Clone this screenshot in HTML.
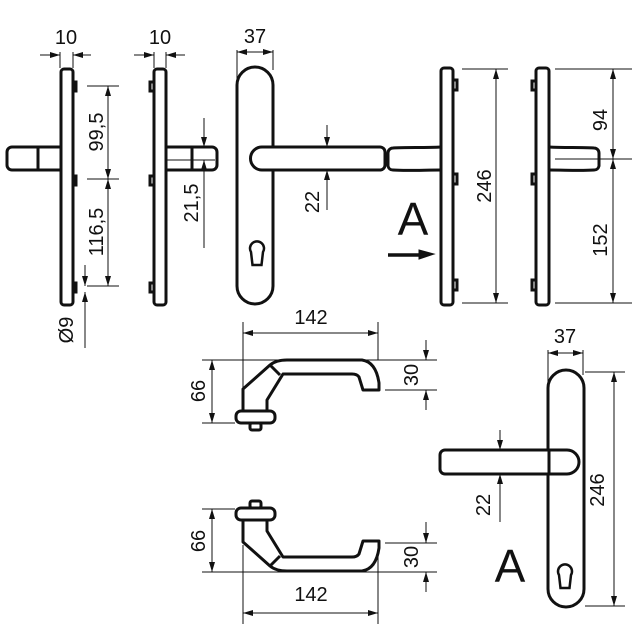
<!DOCTYPE html>
<html><head><meta charset="utf-8"><style>
html,body{margin:0;padding:0;background:#fff}
svg{display:block}
text{font-family:"Liberation Sans",Arial,sans-serif;fill:#111}
</style></head><body>
<svg width="634" height="633" viewBox="0 0 634 633" xmlns="http://www.w3.org/2000/svg">
<defs>
<marker id="ar" viewBox="0 0 10 6" refX="10" refY="3" markerWidth="10" markerHeight="6" markerUnits="userSpaceOnUse" orient="auto-start-reverse"><path d="M0,0 L10,3 L0,6 z" fill="#111"/></marker>
</defs>
<g stroke="#111" fill="none">
<!-- View 1 -->
<g stroke-width="3">
<rect x="61" y="69" width="12" height="236" rx="3"/>
<path d="M73,82 h3 v9 h-3 M73,176 h3 v9 h-3 M73,283 h3 v9 h-3" stroke-width="3"/>
<path d="M60,147 H12 a5,5 0 0 0 -5,5 v13 a5,5 0 0 0 5,5 H60 M38,147 v23"/>
</g>
<!-- View 2 -->
<g stroke-width="3">
<rect x="154" y="69" width="12" height="236" rx="3"/>
<path d="M154,82 h-4 v9 h4 M154,176 h-4 v9 h4 M154,283 h-4 v9 h4"/>
<path d="M166,147 H212 a5,5 0 0 1 5,5 v13 a5,5 0 0 1 -5,5 H166 M192,147 v23"/>
</g>
<!-- View 3 -->
<g stroke-width="3">
<rect x="237" y="67" width="36" height="237" rx="18"/>
<path d="M262,147 H380 a5,5 0 0 1 5,5 v13 a5,5 0 0 1 -5,5 H262 a11.5,11.5 0 1 1 0,-23 z" fill="#fff"/>
<path d="M251,252 a7,7 0 1 1 12,0 l-1.5,13 h-9 z" stroke-width="2.5"/>
</g>
<!-- View 4 -->
<g stroke-width="3">
<rect x="441" y="68" width="12" height="237" rx="3"/>
<path d="M453,80 h4 v10 h-4 M453,174 h4 v10 h-4 M453,280 h4 v10 h-4"/>
<path d="M441,147 C425,148 405,147 393,148 a5,5 0 0 0 -5,5 v13 a5,5 0 0 0 5,4 C405,171 425,170 441,170"/>
</g>
<path d="M388,255 H420" stroke-width="3.5"/>
<path d="M419,250 L434,254 L419,259 z" fill="#111" stroke-width="1"/>
<!-- View 5 -->
<g stroke-width="3">
<rect x="536" y="68" width="13" height="237" rx="3"/>
<path d="M536,81 h-4 v9 h4 M536,174 h-4 v10 h4 M536,280 h-4 v10 h4"/>
<path d="M549,147 C565,148 580,147 594,148 a5,5 0 0 1 5,5 v13 a5,5 0 0 1 -5,4 C580,171 565,170 549,170"/>
</g>
<!-- bottom handles -->
<g id="hd" stroke-width="3" stroke-linejoin="round">
<path d="M243,411 V389 L270,365 Q276,360 287,360 H362 Q376,362 379,383 V390 H363 L359,377 Q357,374 352,374 H283 L267,400 V411"/>
<path d="M270,365 L280,375"/>
<rect x="236" y="411" width="39" height="12" rx="5"/>
<rect x="250" y="423" width="11" height="7" rx="2"/>
</g>
<use href="#hd" transform="translate(0,931) scale(1,-1)"/>
<!-- View A -->
<g stroke-width="3">
<rect x="548" y="370" width="36" height="237" rx="18"/>
<path d="M567,450 H445 a5,5 0 0 0 -5,5 v14 a5,5 0 0 0 5,5 H567 a12,12 0 1 0 0,-24 z" fill="#fff"/>
<path d="M549,450 v24"/>
<path d="M559,575 a7,7 0 1 1 12,0 l-1.5,13 h-9 z" stroke-width="2.5"/>
</g>
<!-- dimension lines -->
<g stroke-width="1">
<path d="M60,52 V68 M73,52 V68"/>
<line x1="40" y1="55" x2="60" y2="55" marker-end="url(#ar)"/>
<line x1="91" y1="55" x2="73" y2="55" marker-end="url(#ar)"/>
<path d="M87,86 H119 M87,179 H119 M87,286 H119"/>
<line x1="108" y1="86" x2="108" y2="179" marker-start="url(#ar)" marker-end="url(#ar)"/>
<line x1="108" y1="179" x2="108" y2="286" marker-start="url(#ar)" marker-end="url(#ar)"/>
<line x1="85" y1="265" x2="85" y2="286" marker-end="url(#ar)"/>
<line x1="85" y1="348" x2="85" y2="292" marker-end="url(#ar)"/>
<path d="M154,52 V68 M166,52 V68"/>
<line x1="134" y1="55" x2="154" y2="55" marker-end="url(#ar)"/>
<line x1="185" y1="55" x2="166" y2="55" marker-end="url(#ar)"/>
<path d="M166,160 H215"/>
<line x1="204" y1="118" x2="204" y2="147" marker-end="url(#ar)"/>
<line x1="204" y1="248" x2="204" y2="160" marker-end="url(#ar)"/>
<path d="M237,50 V85 M273,50 V70"/>
<line x1="237" y1="52" x2="273" y2="52" marker-start="url(#ar)" marker-end="url(#ar)"/>
<line x1="327" y1="125" x2="327" y2="147" marker-end="url(#ar)"/>
<line x1="327" y1="210" x2="327" y2="170" marker-end="url(#ar)"/>
<path d="M462,69 H508 M462,303 H508"/>
<line x1="496" y1="69" x2="496" y2="303" marker-start="url(#ar)" marker-end="url(#ar)"/>
<path d="M555,69 H632 M555,159 H632 M555,303 H632"/>
<line x1="613" y1="69" x2="613" y2="159" marker-start="url(#ar)" marker-end="url(#ar)"/>
<line x1="613" y1="159" x2="613" y2="303" marker-start="url(#ar)" marker-end="url(#ar)"/>
<path d="M243,322 V390 M378,322 V360"/>
<line x1="243" y1="333" x2="378" y2="333" marker-start="url(#ar)" marker-end="url(#ar)"/>
<path d="M202,360 H395 M202,423 H235 M385,390 H437 M395,360 H437"/>
<line x1="212" y1="360" x2="212" y2="423" marker-start="url(#ar)" marker-end="url(#ar)"/>
<line x1="426" y1="340" x2="426" y2="360" marker-end="url(#ar)"/>
<line x1="426" y1="410" x2="426" y2="390" marker-end="url(#ar)"/>
<path d="M243,545 V624 M378,545 V624"/>
<line x1="243" y1="613" x2="378" y2="613" marker-start="url(#ar)" marker-end="url(#ar)"/>
<path d="M202,509 H235 M202,572 H395 M385,543 H437 M395,572 H437"/>
<line x1="212" y1="509" x2="212" y2="572" marker-start="url(#ar)" marker-end="url(#ar)"/>
<line x1="426" y1="522" x2="426" y2="543" marker-end="url(#ar)"/>
<line x1="426" y1="592" x2="426" y2="572" marker-end="url(#ar)"/>
<path d="M548,350 V385 M583,350 V375"/>
<line x1="548" y1="353" x2="583" y2="353" marker-start="url(#ar)" marker-end="url(#ar)"/>
<path d="M585,372 H625 M585,606 H625"/>
<line x1="614" y1="372" x2="614" y2="606" marker-start="url(#ar)" marker-end="url(#ar)"/>
<line x1="500" y1="430" x2="500" y2="450" marker-end="url(#ar)"/>
<line x1="500" y1="522" x2="500" y2="474" marker-end="url(#ar)"/>
</g>
</g>
<g font-size="20">
<text x="66" y="44" text-anchor="middle">10</text>
<text x="160" y="44" text-anchor="middle">10</text>
<text x="255" y="43" text-anchor="middle">37</text>
<text transform="translate(103,132) rotate(-90)" text-anchor="middle">99,5</text>
<text transform="translate(103,232) rotate(-90)" text-anchor="middle">116,5</text>
<text transform="translate(73,330) rotate(-90)" text-anchor="middle">Ø9</text>
<text transform="translate(198,203) rotate(-90)" text-anchor="middle">21,5</text>
<text transform="translate(319,202) rotate(-90)" text-anchor="middle">22</text>
<text transform="translate(491,186) rotate(-90)" text-anchor="middle">246</text>
<text transform="translate(607,120) rotate(-90)" text-anchor="middle">94</text>
<text transform="translate(607,240) rotate(-90)" text-anchor="middle">152</text>
<text x="311" y="324" text-anchor="middle">142</text>
<text transform="translate(205,391) rotate(-90)" text-anchor="middle">66</text>
<text transform="translate(418,375) rotate(-90)" text-anchor="middle">30</text>
<text x="311" y="601" text-anchor="middle">142</text>
<text transform="translate(205,541) rotate(-90)" text-anchor="middle">66</text>
<text transform="translate(418,557) rotate(-90)" text-anchor="middle">30</text>
<text x="565" y="343" text-anchor="middle">37</text>
<text transform="translate(604,490) rotate(-90)" text-anchor="middle">246</text>
<text transform="translate(490,505) rotate(-90)" text-anchor="middle">22</text>
</g>
<text x="413" y="235" font-size="46" text-anchor="middle">A</text>
<text x="510" y="582" font-size="46" text-anchor="middle">A</text>
</svg>
</body></html>
